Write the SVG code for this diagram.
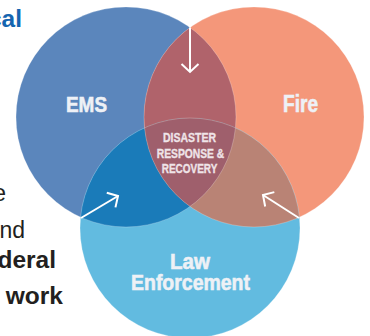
<svg xmlns="http://www.w3.org/2000/svg" width="370" height="336" viewBox="0 0 370 336">
<style>
.lbl{font-family:"Liberation Sans",Arial,sans-serif;font-weight:bold;fill:#eef1f6;stroke:#eef1f6;stroke-width:0.6;text-anchor:middle}
.ctr{font-family:"Liberation Sans",Arial,sans-serif;font-weight:bold;fill:#efe4e8;stroke:#efe4e8;stroke-width:0.35;text-anchor:middle;font-size:13.5px}
.side{font-family:"Liberation Sans",Arial,sans-serif;fill:#231f20;font-size:23px;text-anchor:end}
.b{font-weight:bold;font-size:24.5px}
.edge{fill:none;stroke:#ffffff;stroke-opacity:0.3;stroke-width:0.8}
.arr{stroke:#ffffff;stroke-width:2;fill:none;marker-end:url(#chev)}
</style>
<defs>
<clipPath id="cE"><circle cx="126" cy="117" r="110"/></clipPath>
<clipPath id="cF"><circle cx="254" cy="117" r="110"/></clipPath>
<clipPath id="cL"><circle cx="190" cy="228" r="110"/></clipPath>
<marker id="chev" viewBox="-10 -10 12 20" refX="0" refY="0" markerWidth="12" markerHeight="20" orient="auto" markerUnits="userSpaceOnUse">
<path d="M-8,-8.5 L0,0 L-8,8.5" fill="none" stroke="#ffffff" stroke-width="2"/>
</marker>
</defs>
<g id="side-text">
<text x="22" y="27" class="side b" style="fill:#1565b0">cal</text>
<text x="6" y="201" class="side">e</text>
<text x="25" y="238" class="side">nd</text>
<text x="56" y="268" class="side b">deral</text>
<text x="63" y="304" class="side b">work</text>
</g>
<g id="ems"><circle cx="126" cy="117" r="110" fill="#5b86bc"/></g>
<g id="fire"><circle cx="254" cy="117" r="110" fill="#f4977a"/></g>
<g id="law"><circle cx="190" cy="228" r="110" fill="#62bbe0"/></g>
<g id="overlaps">
<circle cx="254" cy="117" r="110" fill="#b0636b" clip-path="url(#cE)"/>
<circle cx="190" cy="228" r="110" fill="#1a7bb9" clip-path="url(#cE)"/>
<circle cx="190" cy="228" r="110" fill="#b98375" clip-path="url(#cF)"/>
</g>
<g id="center">
<g clip-path="url(#cE)"><circle cx="190" cy="228" r="110" fill="#9f5f6c" clip-path="url(#cF)"/></g>
</g>
<g id="edges">
<circle class="edge" cx="126" cy="117" r="110"/>
<circle class="edge" cx="254" cy="117" r="110"/>
<circle class="edge" cx="190" cy="228" r="110"/>
</g>
<g id="labels">
<text class="lbl" x="86.5" y="111.7" font-size="22.5" textLength="41" lengthAdjust="spacingAndGlyphs">EMS</text>
<text class="lbl" x="300.5" y="111.7" font-size="23" textLength="35" lengthAdjust="spacingAndGlyphs">Fire</text>
<text class="lbl" x="190" y="269.3" font-size="22" textLength="40" lengthAdjust="spacingAndGlyphs">Law</text>
<text class="lbl" x="190.5" y="290" font-size="22" textLength="119" lengthAdjust="spacingAndGlyphs">Enforcement</text>
<text class="ctr" x="189.5" y="142.4" textLength="53" lengthAdjust="spacingAndGlyphs">DISASTER</text>
<text class="ctr" x="190.5" y="157.6" textLength="67.6" lengthAdjust="spacingAndGlyphs">RESPONSE &amp;</text>
<text class="ctr" x="189.5" y="172.7" textLength="55.6" lengthAdjust="spacingAndGlyphs">RECOVERY</text>
</g>
<g id="connectors">
<line class="arr" x1="190" y1="27.5" x2="190" y2="72"/>
<line class="arr" x1="81" y1="218" x2="118" y2="196"/>
<line class="arr" x1="299" y1="218" x2="263" y2="195"/>
</g>
</svg>
